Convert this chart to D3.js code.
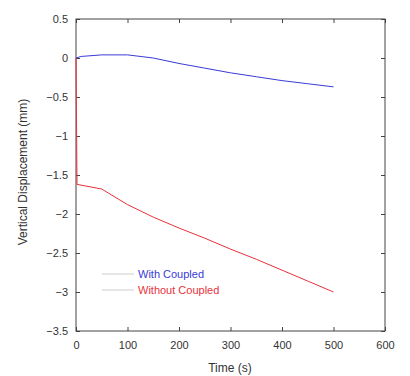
<!DOCTYPE html>
<html>
<head>
<meta charset="utf-8">
<script src="https://cdn.jsdelivr.net/npm/d3@7"></script>
<style>
    body { margin: 0; background: #fff; }
    text { font-family: "Liberation Sans", Arial, sans-serif; }
</style>
</head>
<body>
<script>
// values
var timeWith   = [0, 10, 50, 100, 150, 200, 250, 300, 350, 400, 450, 500];
var dispWith   = [0, 0.02, 0.04, 0.04, 0.0, -0.07, -0.13, -0.19, -0.24, -0.29, -0.33, -0.37];
var timeWithout = [0, 2, 50, 100, 150, 200, 250, 300, 350, 400, 450, 500];
var dispWithout = [0, -1.62, -1.68, -1.88, -2.04, -2.18, -2.31, -2.45, -2.58, -2.72, -2.86, -3.0];
var xTicks = [0, 100, 200, 300, 400, 500, 600];
var yTicks = [0.5, 0, -0.5, -1, -1.5, -2, -2.5, -3, -3.5];
var seriesNames = ["With Coupled", "Without Coupled"];

var w = 410, h = 376;
var pLeft = 76, pRight = 385, pTop = 19, pBottom = 331;

var svg = d3.select("body").append("svg")
    .attr("width", w)
    .attr("height", h);

var x = d3.scaleLinear().domain([0, 600]).range([pLeft, pRight]);
var y = d3.scaleLinear().domain([-3.5, 0.5]).range([pBottom, pTop]);

// frame
svg.append("rect")
    .attr("x", pLeft).attr("y", pTop)
    .attr("width", pRight - pLeft).attr("height", pBottom - pTop)
    .attr("fill", "none").attr("stroke", "#444").attr("stroke-width", 1);

var xAxis = svg.append("g")
    .attr("transform", "translate(0," + pBottom + ")")
    .call(d3.axisBottom(x).tickValues(xTicks).tickSize(-4).tickPadding(10).tickFormat(d3.format("d")));
var xTop = svg.append("g")
    .attr("transform", "translate(0," + pTop + ")")
    .call(d3.axisTop(x).tickValues(xTicks).tickSize(-4).tickFormat(""));
var yAxis = svg.append("g")
    .attr("transform", "translate(" + pLeft + ",0)")
    .call(d3.axisLeft(y).tickValues(yTicks).tickSize(-4).tickPadding(8).tickFormat(d3.format("")));
var yRight = svg.append("g")
    .attr("transform", "translate(" + pRight + ",0)")
    .call(d3.axisRight(y).tickValues(yTicks).tickSize(-4).tickFormat(""));

[xAxis, xTop, yAxis, yRight].forEach(function(g) {
    g.select(".domain").remove();
    g.selectAll("line").attr("stroke", "#444");
    g.selectAll("text").attr("font-size", "11px").attr("fill", "#333");
});

var line = d3.line()
    .x(function(d) { return x(d[0]); })
    .y(function(d) { return y(d[1]); });

svg.append("path")
    .datum(d3.zip(timeWithout, dispWithout))
    .attr("d", line)
    .attr("fill", "none")
    .attr("stroke", "#e8323c")
    .attr("stroke-width", 1);

svg.append("path")
    .datum(d3.zip(timeWith, dispWith))
    .attr("d", line)
    .attr("fill", "none")
    .attr("stroke", "#3a3ad8")
    .attr("stroke-width", 1);

// legend
var colors = ["#3a3ad8", "#e8323c"];
var legend = svg.append("g");
seriesNames.forEach(function(name, i) {
    var ly = 274 + i * 16;
    legend.append("line")
        .attr("x1", 102).attr("x2", 134)
        .attr("y1", ly).attr("y2", ly)
        .attr("stroke", "#ccc");
    legend.append("text")
        .attr("x", 138).attr("y", ly + 4)
        .attr("font-size", "11px")
        .attr("fill", colors[i])
        .text(name);
});

// axis labels
svg.append("text")
    .attr("x", 230).attr("y", 372)
    .attr("text-anchor", "middle")
    .attr("font-size", "12px").attr("fill", "#333")
    .text("Time (s)");

svg.append("text")
    .attr("transform", "translate(27,172) rotate(-90)")
    .attr("text-anchor", "middle")
    .attr("font-size", "12px").attr("fill", "#333")
    .text("Vertical Displacement (mm)");
</script>
</body>
</html>
